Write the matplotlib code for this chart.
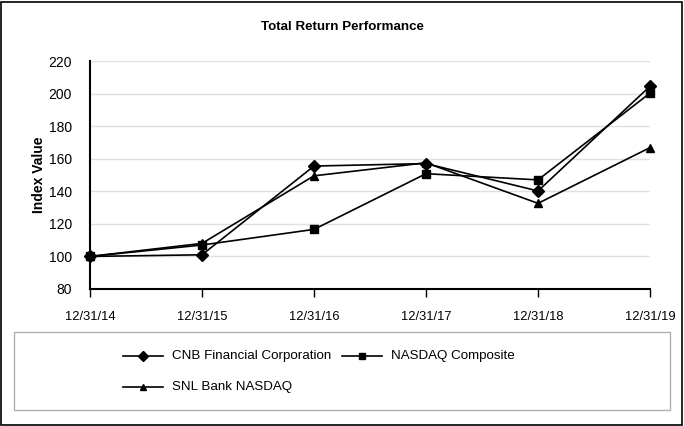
import matplotlib
matplotlib.use("Agg")
import matplotlib.pyplot as plt
from matplotlib.patches import Rectangle
from matplotlib.lines import Line2D

plt.rcParams['font.family'] = ['Liberation Sans', 'DejaVu Sans']

dates = ["12/31/14", "12/31/15", "12/31/16", "12/31/17", "12/31/18", "12/31/19"]
cnb = [100, 101.0, 155.5, 157.0, 140.2, 204.5]
nasdaq = [100, 107.0, 116.6, 150.8, 147.0, 200.3]
snl = [100, 108.0, 149.5, 157.5, 132.6, 166.8]
series_names = ["CNB Financial Corporation", "NASDAQ Composite", "SNL Bank NASDAQ"]
yticks = [80, 100, 120, 140, 160, 180, 200, 220]

W, H = 684, 426
fig = plt.figure(figsize=(W / 100, H / 100), dpi=100)

# outer border
fig.patches.append(Rectangle((1 / W, 1 / H), (W - 3) / W, (H - 3) / H, transform=fig.transFigure,
                             fill=False, edgecolor='black', linewidth=1.2))

ax = fig.add_axes([90 / W, 1 - 289 / H, 560 / W, 228 / H])
x = list(range(len(dates)))
styles = [(cnb, 'D', 6.5), (nasdaq, 's', 6), (snl, '^', 6)]
handles = []
for (vals, m, ms), name in zip(styles, series_names):
    ln, = ax.plot(x, vals, color='black', linewidth=1.2, marker=m, markersize=ms,
                  clip_on=False, zorder=3, label=name)
    handles.append(ln)

ax.set_xlim(0, 5)
ax.set_ylim(80, 220)
ax.set_yticks(yticks)
ax.set_xticks(x)
ax.set_xticklabels(dates)
ax.yaxis.grid(True, color='#e0e0e0', linewidth=1)
ax.set_axisbelow(True)
for s in ['top', 'right']:
    ax.spines[s].set_visible(False)
for s in ['left', 'bottom']:
    ax.spines[s].set_linewidth(1.5)
ax.tick_params(axis='y', length=0, pad=13, labelsize=10)
ax.tick_params(axis='x', length=6, width=1, direction='out', pad=10, labelsize=9.3)
ax.set_ylabel("Index Value", fontsize=10, fontweight='bold', labelpad=1.5)

fig.text(342 / W, 1 - 26.5 / H, "Total Return Performance", ha='center', va='center',
         fontsize=9.6, fontweight='bold')

# legend box
fig.patches.append(Rectangle((14 / W, 1 - 410 / H), 656 / W, 78 / H, transform=fig.transFigure,
                             fill=False, edgecolor='#b0b0b0', linewidth=1))
leg_pos = [(123, 356), (342, 356), (123, 387)]
for (px, py), h, name in zip(leg_pos, handles, series_names):
    fig.lines.append(Line2D([px / W, (px + 40) / W], [1 - py / H, 1 - py / H], transform=fig.transFigure,
                            color='black', linewidth=1.2))
    fig.lines.append(Line2D([(px + 20) / W], [1 - py / H], transform=fig.transFigure,
                            color='black', marker=h.get_marker(), markersize=h.get_markersize() * 0.8,
                            linestyle='none'))
    fig.text((px + 49) / W, 1 - py / H, name, ha='left', va='center', fontsize=9.6)

fig.savefig("out.png", dpi=100)
